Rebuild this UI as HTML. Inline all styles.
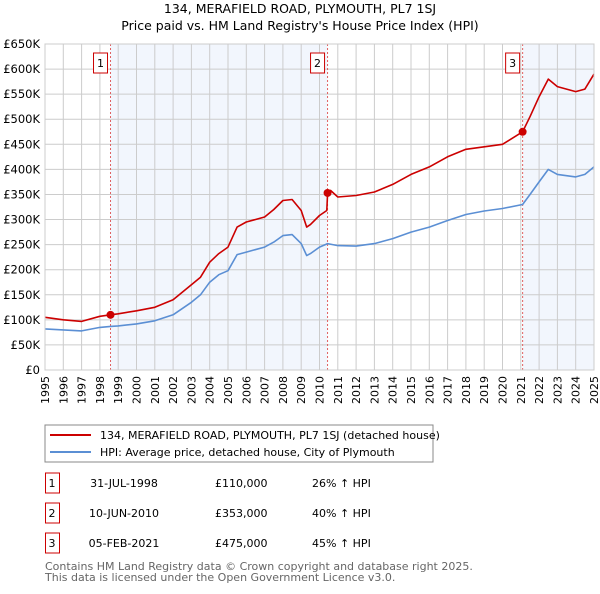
<!DOCTYPE html>
<html><head><meta charset="utf-8"><style>
body{margin:0;background:#fff;font-family:"DejaVu Sans","Liberation Sans",sans-serif;}
svg text{font-family:"DejaVu Sans","Liberation Sans",sans-serif;}
</style></head><body>
<svg id="c" width="600" height="590" xmlns="http://www.w3.org/2000/svg">
<text x="300" y="13" text-anchor="middle" font-size="12.5">134, MERAFIELD ROAD, PLYMOUTH, PL7 1SJ</text>
<text x="300" y="30" text-anchor="middle" font-size="12.5">Price paid vs. HM Land Registry's House Price Index (HPI)</text>
<g id="plot"></g>
<rect x="45" y="425" width="388" height="37" fill="#fff" stroke="#888"/>
<line x1="50" y1="435" x2="91" y2="435" stroke="#cc0000" stroke-width="2"/>
<text x="100" y="439" font-size="11">134, MERAFIELD ROAD, PLYMOUTH, PL7 1SJ (detached house)</text>
<line x1="50" y1="452" x2="91" y2="452" stroke="#5b8fd4" stroke-width="2"/>
<text x="100" y="456" font-size="11">HPI: Average price, detached house, City of Plymouth</text>
<g id="table" font-size="11"></g>
<text x="45" y="570" font-size="11" fill="#666">Contains HM Land Registry data © Crown copyright and database right 2025.</text>
<text x="45" y="581" font-size="11" fill="#666">This data is licensed under the Open Government Licence v3.0.</text>
</svg>
<script>
const hpiYears=[1995,1996,1997,1998,1998.58,1999,2000,2001,2002,2003,2003.5,2004,2004.5,2005,2005.5,2006,2007,2007.5,2008,2008.5,2009,2009.3,2009.5,2010,2010.44,2011,2012,2013,2014,2015,2016,2017,2018,2019,2020,2021.1,2021.5,2022,2022.5,2023,2024,2024.5,2025];
const hpiValues=[82,80,78,85,87,88,92,98,110,135,150,175,190,198,230,235,245,255,268,270,252,228,232,245,252,248,247,252,262,275,285,298,310,317,322,330,350,375,400,390,385,390,405];
const propYears=[1995,1996,1997,1998,1998.58,1999,2000,2001,2002,2003,2003.5,2004,2004.5,2005,2005.5,2006,2007,2007.5,2008,2008.5,2009,2009.3,2009.5,2010,2010.4,2010.44,2010.6,2011,2012,2013,2014,2015,2016,2017,2018,2019,2020,2021.1,2021.5,2022,2022.5,2023,2024,2024.5,2025];
const propValues=[105,100,97,107,110,112,118,125,140,170,185,215,232,245,285,295,305,320,338,340,318,285,290,308,318,353,358,345,348,355,370,390,405,425,440,445,450,475,505,545,580,565,555,560,590];
const saleYears=[1998.58,2010.44,2021.1];
const saleValues=[110,353,475];
const saleLabels=["1","2","3"];
const saleDates=["31-JUL-1998","10-JUN-2010","05-FEB-2021"];
const salePrices=["£110,000","£353,000","£475,000"];
const saleDiffs=["26% ↑ HPI","40% ↑ HPI","45% ↑ HPI"];
const yTicks=[0,50,100,150,200,250,300,350,400,450,500,550,600,650];
const yTickLabels=["£0","£50K","£100K","£150K","£200K","£250K","£300K","£350K","£400K","£450K","£500K","£550K","£600K","£650K"];
const xTicks=[1995,1996,1997,1998,1999,2000,2001,2002,2003,2004,2005,2006,2007,2008,2009,2010,2011,2012,2013,2014,2015,2016,2017,2018,2019,2020,2021,2022,2023,2024,2025];

const NS="http://www.w3.org/2000/svg";
const X0=45,X1=594,Y0=370,Y1=44;
const xs=y=>X0+(y-1995)/30*(X1-X0);
const ys=v=>Y0-v/650*(Y0-Y1);
const plot=document.getElementById('plot');
function mk(tag,attrs,parent){const e=document.createElementNS(NS,tag);for(const k in attrs)e.setAttribute(k,attrs[k]);(parent||plot).appendChild(e);return e;}
let r=mk('rect',{x:X0,y:Y1,width:X1-X0,height:Y0-Y1,fill:'#fff'});


// shading
let s1=mk('rect',{x:xs(saleYears[0]),y:Y1,width:xs(saleYears[1])-xs(saleYears[0]),height:Y0-Y1,fill:'#f2f6fd'});


let s2=mk('rect',{x:xs(saleYears[2]),y:Y1,width:X1-xs(saleYears[2]),height:Y0-Y1,fill:'#f2f6fd'});


xTicks.forEach(t=>{
 let l=mk('line',{x1:xs(t),x2:xs(t),y1:Y1,y2:Y0,stroke:'#ccc','stroke-width':1});
 
 
 let tx=mk('text',{x:0,y:0,'font-size':11,'text-anchor':'end',transform:`translate(${xs(t)+4},${Y0+6}) rotate(-90)`});
 tx.textContent=t;
 
 
});
yTicks.forEach((t,i)=>{
 let l=mk('line',{x1:X0,x2:X1,y1:ys(t),y2:ys(t),stroke:'#ccc','stroke-width':1});
 
 
 let tx=mk('text',{x:X0-5,y:ys(t)+4,'font-size':11.5,'text-anchor':'end'});
 tx.textContent=yTickLabels[i];
 
 
});
saleYears.forEach((y,i)=>{
 let l=mk('line',{x1:xs(y),x2:xs(y),y1:Y1,y2:Y0,stroke:'#e06060','stroke-width':1,'stroke-dasharray':'2,2'});
 
 
});
function path(xa,va,col,name){
 let d=xa.map((x,i)=>(i?'L':'M')+xs(x).toFixed(1)+','+ys(va[i]).toFixed(1)).join('');
 let p=mk('path',{d:d,fill:'none',stroke:col,'stroke-width':1.6,'stroke-linejoin':'round'});
 
 
}
path(hpiYears,hpiValues,'#5b8fd4','hpi-line');
path(propYears,propValues,'#cc0000','property-price-line');
saleYears.forEach((y,i)=>{
 let c=mk('circle',{cx:xs(y),cy:ys(saleValues[i]),r:4,fill:'#cc0000'});
 
 
 let b=mk('rect',{x:xs(y)-17,y:53,width:14,height:20,fill:'#fff',stroke:'#cc0000'});
 
 
 let t=mk('text',{x:xs(y)-10,y:67,'font-size':11,'text-anchor':'middle'});
 t.textContent=saleLabels[i];
 
 
});
let bd=mk('rect',{x:X0,y:Y1,width:X1-X0,height:Y0-Y1,fill:'none',stroke:'#ccc'});


const tb=document.getElementById('table');
saleLabels.forEach((lab,i)=>{
 const cy=483+i*30;
 let b=mk('rect',{x:45.5,y:cy-10,width:14,height:20,fill:'#fff',stroke:'#cc0000'},tb);
 
 
 const cells=[[52,lab,'middle'],[124,saleDates[i],'middle'],[215,salePrices[i],'start'],[312,saleDiffs[i],'start']];
 cells.forEach(c=>{
  let t=mk('text',{x:c[0],y:cy+4,'text-anchor':c[2]},tb);
  t.textContent=c[1];
  
  
 });
});
</script>
</body></html>
